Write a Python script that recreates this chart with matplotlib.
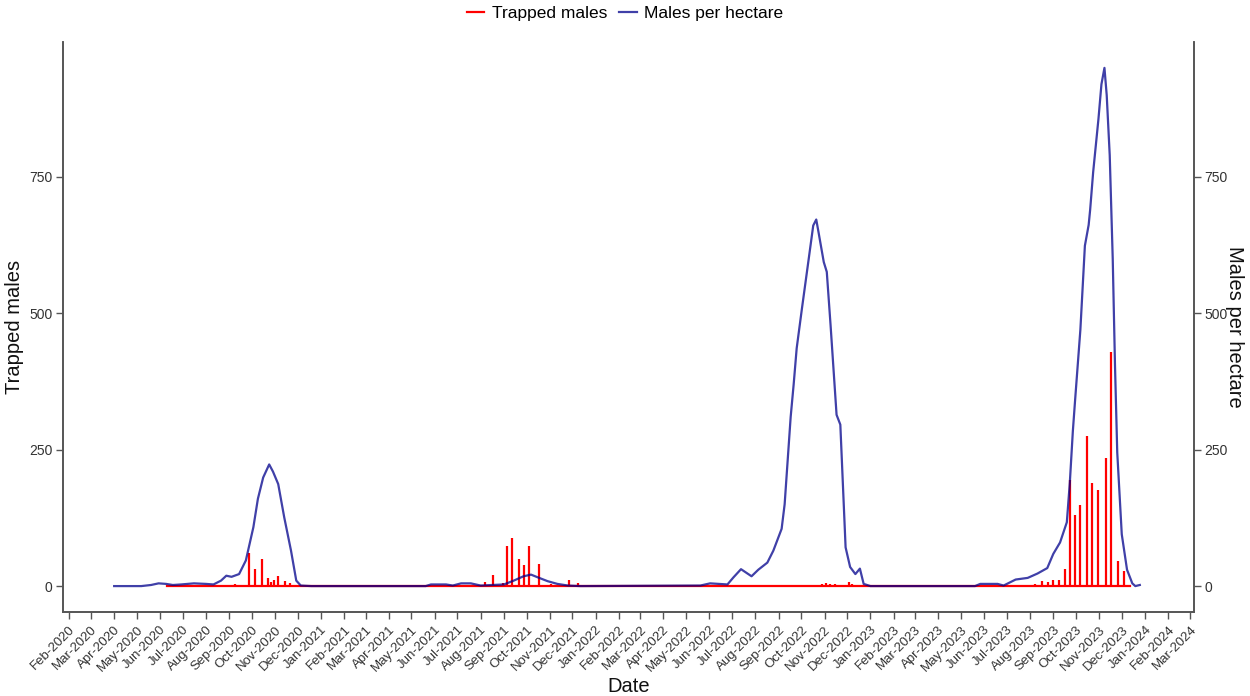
import pandas as pd
import matplotlib
matplotlib.use("Agg")
import matplotlib.pyplot as plt
import matplotlib.dates as mdates

plt.rcParams['font.family'] = ['Liberation Sans', 'DejaVu Sans']

# Males per hectare (line)
blue_dates = ['2020-04-01', '2020-05-07', '2020-05-20', '2020-05-30', '2020-06-09', '2020-06-18',
              '2020-06-29', '2020-07-16', '2020-08-01', '2020-08-11', '2020-08-21', '2020-08-28',
              '2020-09-04', '2020-09-14', '2020-09-23', '2020-10-03', '2020-10-09', '2020-10-16',
              '2020-10-24', '2020-10-29', '2020-11-05', '2020-11-13', '2020-11-22', '2020-11-29',
              '2020-12-05', '2020-12-19', '2021-05-20', '2021-05-27', '2021-06-16', '2021-06-25',
              '2021-07-06', '2021-07-19', '2021-08-01', '2021-09-01', '2021-09-14', '2021-09-27',
              '2021-10-07', '2021-10-16', '2021-10-29', '2021-11-11', '2021-11-25', '2021-12-12',
              '2022-05-20', '2022-06-02', '2022-06-25', '2022-07-03', '2022-07-13', '2022-07-27',
              '2022-08-05', '2022-08-17', '2022-08-25', '2022-09-05', '2022-09-09', '2022-09-13',
              '2022-09-17', '2022-09-21', '2022-09-25', '2022-10-02', '2022-10-11', '2022-10-17',
              '2022-10-21', '2022-10-24', '2022-10-31', '2022-11-04', '2022-11-09', '2022-11-17',
              '2022-11-22', '2022-11-29', '2022-12-05', '2022-12-12', '2022-12-18', '2022-12-23',
              '2023-01-01', '2023-05-20', '2023-05-27', '2023-06-19', '2023-06-27', '2023-07-13',
              '2023-07-29', '2023-08-11', '2023-08-24', '2023-09-01', '2023-09-10', '2023-09-19',
              '2023-09-23', '2023-09-27', '2023-09-30', '2023-10-07', '2023-10-13', '2023-10-18',
              '2023-10-20', '2023-10-24', '2023-10-31', '2023-11-04', '2023-11-08', '2023-11-11',
              '2023-11-15', '2023-11-19', '2023-11-22', '2023-11-25', '2023-12-01', '2023-12-08',
              '2023-12-15', '2023-12-19', '2023-12-25']
blue_vals = [0, 0, 2, 5, 4, 2,
             3, 5, 4, 3, 10, 19,
             17, 22, 47, 108, 160, 199,
             223, 210, 187, 126, 65, 10,
             1, 0, 0, 3, 3, 1,
             5, 5, 1, 3, 10, 18,
             21, 16, 9, 4, 1, 0,
             1, 5, 3, 16, 31, 18,
             30, 43, 65, 105, 150, 230,
             310, 370, 436, 509, 600, 661,
             672, 649, 594, 576, 479, 314,
             296, 71, 35, 22, 32, 4,
             0, 0, 4, 4, 1, 12,
             15, 23, 33, 59, 80, 117,
             190, 284, 341, 470, 624, 662,
             690, 759, 856, 920, 950, 900,
             790, 600, 405, 245, 95, 30,
             5, 0, 2]

# Trapped males (spikes)
red_dates = ['2020-09-08', '2020-09-27', '2020-10-05', '2020-10-14', '2020-10-22', '2020-10-26',
             '2020-10-31', '2020-11-05', '2020-11-14', '2020-11-21',
             '2021-08-07', '2021-08-17', '2021-08-31', '2021-09-05', '2021-09-12', '2021-09-21',
             '2021-09-27', '2021-10-04', '2021-10-18', '2021-11-02', '2021-11-26', '2021-12-09',
             '2022-09-23', '2022-10-29', '2022-11-03', '2022-11-08', '2022-11-15', '2022-12-03',
             '2022-12-08',
             '2023-08-08', '2023-08-17', '2023-08-25', '2023-08-31', '2023-09-08', '2023-09-17',
             '2023-09-23', '2023-09-30', '2023-10-07', '2023-10-16', '2023-10-22', '2023-10-30',
             '2023-11-10', '2023-11-17', '2023-11-26', '2023-12-04']
red_vals = [4, 60, 32, 50, 15, 7,
            11, 18, 10, 6,
            7, 21, 5, 73, 89, 50,
            39, 74, 41, 4, 12, 5,
            2, 4, 6, 3, 4, 8,
            3,
            4, 9, 7, 12, 12, 32,
            194, 131, 148, 275, 189, 176,
            234, 430, 46, 27]
red_start = '2020-06-10'
red_end = '2023-12-12'

yticks = [0, 250, 500, 750]

bd = pd.to_datetime(blue_dates)
rd = pd.to_datetime(red_dates)

fig = plt.figure(figsize=(12.5, 6.96), dpi=100)
ax = fig.add_axes([0.0504, 0.1207, 0.9048, 0.819])

red = '#FF0000'
blue = '#00008B'

ax.plot(pd.to_datetime([red_start, red_end]), [0, 0], color=red, lw=1.6, zorder=2)
ax.vlines(rd, 0, red_vals, color=red, lw=1.6, zorder=2)
ax.plot(bd, blue_vals, color=blue, alpha=0.75, lw=1.6, zorder=3)

ax.set_ylim(-47.5, 997.5)
ax.set_xlim(pd.Timestamp('2020-01-24'), pd.Timestamp('2024-03-06'))
ax.set_yticks(yticks)

ax.xaxis.set_major_locator(mdates.MonthLocator())
ax.xaxis.set_major_formatter(mdates.DateFormatter('%b-%Y'))
for lab in ax.get_xticklabels():
    lab.set_rotation(45)
    lab.set_ha('right')
    lab.set_rotation_mode('anchor')

ax2 = ax.twinx()
ax2.set_ylim(ax.get_ylim())
ax2.set_yticks(yticks)

for a in (ax, ax2):
    for s in a.spines.values():
        s.set_color('#555555')
        s.set_linewidth(1.2)
    a.spines['top'].set_visible(False)
    a.tick_params(colors='#555555', labelcolor='#333333', length=5, width=1.0,
                  labelsize=10, pad=2.5)
ax.tick_params(axis='x', labelsize=9.5, pad=3.5)

ax.set_xlabel('Date', fontsize=14.5, color='#111111', labelpad=2)
ax.set_ylabel('Trapped males', fontsize=14.5, color='#111111', labelpad=4)
ax2.set_ylabel('Males per hectare', fontsize=14.5, color='#111111', rotation=270, labelpad=12)

h1, = ax.plot([], [], color=red, lw=1.6)
h2, = ax.plot([], [], color=blue, alpha=0.75, lw=1.6)
fig.legend([h1, h2], ['Trapped males', 'Males per hectare'], loc='center',
           bbox_to_anchor=(0.5, 0.98), ncol=2, frameon=False, fontsize=12.5,
           handlelength=1.0, handletextpad=0.45, columnspacing=0.7)

fig.savefig('out.png', dpi=100)
